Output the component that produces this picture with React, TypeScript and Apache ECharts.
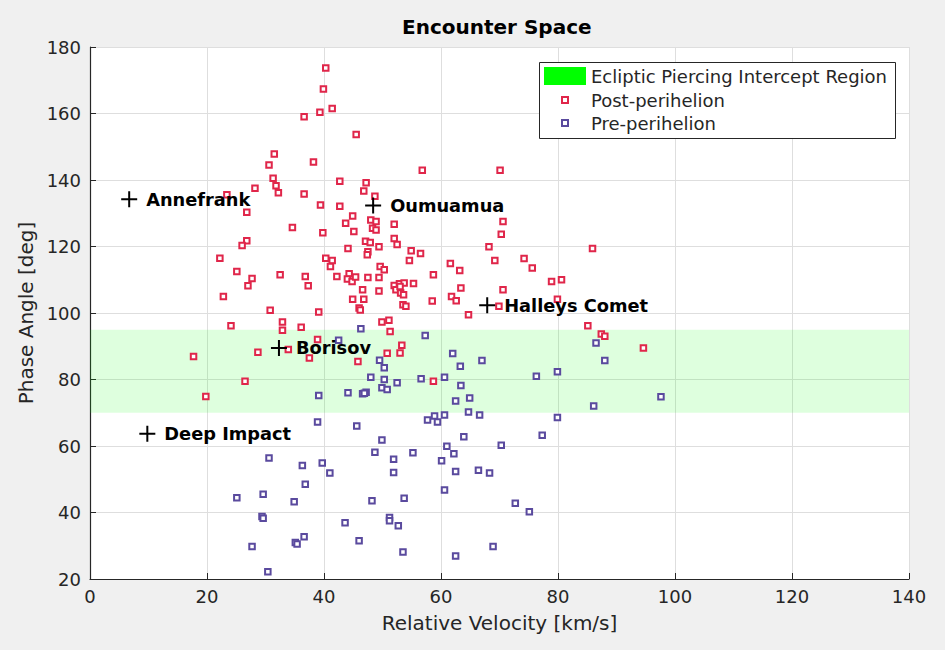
import React, { useEffect, useRef } from "react";
import * as echarts from "echarts";

const FONT = "DejaVu Sans";
const RED = "#e0264a";
const BLUE = "#5a4a9e";

const X_TICKS = [0, 140, 20];
const Y_TICKS = [20, 180, 20];
const BAND = [70, 95];

const postX = [40.3, 39.9, 41.4, 39.3, 36.6, 45.5, 31.5, 30.6, 38.2, 31.3, 31.8, 32.2, 28.2, 23.4, 36.6, 42.7, 47.2, 46.8, 48.7, 26.8, 39.4, 42.7, 44.9, 43.7, 34.6, 39.8, 45.1, 48.0, 48.9, 48.3, 48.9, 26.8, 26.0, 44.1, 47.1, 47.9, 47.5, 47.4, 49.4, 22.2, 40.3, 41.4, 41.1, 25.1, 27.7, 27.0, 32.5, 36.8, 37.3, 42.2, 44.3, 44.0, 44.8, 45.4, 47.5, 49.4, 49.6, 50.3, 22.8, 46.6, 49.4, 44.9, 46.8, 46.0, 46.2, 30.8, 39.1, 56.8, 70.1, 52.0, 70.6, 70.3, 52.0, 52.5, 54.9, 56.5, 54.6, 68.2, 69.2, 74.2, 75.6, 85.9, 61.6, 63.2, 58.7, 52.0, 52.9, 53.7, 52.3, 53.1, 53.6, 53.0, 55.3, 53.5, 54.0, 58.5, 61.8, 62.6, 63.4, 70.6, 78.9, 80.6, 79.9, 64.7, 69.9, 85.1, 87.4, 88.0, 94.6, 24.1, 32.9, 32.9, 36.1, 38.9, 33.9, 28.7, 17.7, 37.5, 26.5, 19.8, 45.8, 49.9, 51.1, 51.3, 53.3, 53.0, 50.8, 58.7];
const postY = [173.7, 167.4, 161.5, 160.4, 159.0, 153.7, 147.8, 144.5, 145.4, 140.5, 138.3, 136.2, 137.5, 135.6, 135.8, 139.6, 139.2, 136.7, 135.1, 130.3, 132.5, 132.1, 129.2, 127.0, 125.7, 124.1, 124.5, 128.0, 127.5, 125.5, 125.0, 121.7, 120.3, 119.4, 121.6, 121.2, 118.4, 117.5, 119.9, 116.5, 116.5, 115.8, 114.0, 112.5, 110.4, 108.2, 111.5, 111.0, 108.2, 111.0, 111.8, 110.2, 109.5, 110.8, 110.7, 110.7, 114.0, 113.0, 105.0, 107.0, 106.6, 104.1, 104.1, 101.5, 100.9, 100.8, 100.3, 142.9, 142.9, 126.7, 127.5, 123.7, 122.4, 120.6, 118.7, 117.9, 115.8, 119.9, 115.8, 116.4, 113.5, 119.4, 114.9, 112.8, 111.5, 108.3, 108.8, 109.0, 107.0, 106.0, 105.5, 108.0, 108.9, 102.5, 102.0, 103.6, 105.0, 103.7, 107.5, 107.0, 109.5, 110.0, 104.1, 99.5, 102.0, 96.2, 93.7, 93.0, 89.5, 96.2, 97.3, 94.8, 95.7, 92.0, 89.0, 88.2, 86.9, 86.5, 79.5, 74.9, 85.4, 97.3, 97.8, 94.4, 90.3, 88.0, 87.9, 79.5];

const preX = [46.3, 42.5, 49.5, 50.3, 48.0, 50.3, 49.9, 50.8, 52.5, 44.1, 46.6, 47.2, 46.9, 39.1, 38.9, 45.6, 49.9, 48.7, 30.6, 36.3, 39.7, 41.0, 36.8, 25.1, 29.6, 34.9, 48.2, 29.4, 29.6, 43.6, 51.2, 36.6, 35.1, 35.4, 27.7, 46.0, 30.4, 57.3, 62.0, 67.0, 63.3, 56.6, 60.6, 63.4, 62.5, 64.9, 64.7, 66.6, 57.7, 58.9, 59.4, 60.6, 76.3, 79.9, 79.9, 86.1, 86.5, 88.0, 97.6, 55.2, 51.9, 51.9, 63.9, 61.0, 62.2, 60.1, 62.5, 66.4, 68.3, 70.3, 77.3, 60.6, 53.7, 51.2, 52.7, 72.7, 75.1, 53.5, 62.5, 68.9];
const preY = [95.3, 91.8, 85.8, 83.5, 80.7, 80.0, 77.5, 77.0, 79.0, 76.0, 75.7, 76.2, 75.9, 75.2, 67.2, 66.0, 61.8, 58.1, 56.4, 54.1, 54.9, 51.9, 48.5, 44.4, 45.5, 43.2, 43.5, 38.8, 38.3, 36.9, 38.5, 32.7, 31.0, 30.5, 29.8, 31.5, 22.2, 93.2, 87.8, 85.7, 84.0, 80.2, 80.7, 78.2, 73.5, 74.4, 70.2, 69.3, 67.8, 69.0, 67.2, 69.3, 81.0, 82.3, 68.6, 72.0, 91.0, 85.7, 74.8, 58.0, 56.0, 52.0, 62.8, 59.9, 57.7, 55.6, 52.3, 52.7, 51.9, 60.2, 63.2, 46.8, 44.3, 37.5, 36.0, 42.8, 40.2, 28.1, 26.9, 29.8];

const labelNames = ["Annefrank", "Oumuamua", "Halleys Comet", "Borisov", "Deep Impact"];
const labelX = [6.7, 48.4, 67.9, 32.3, 9.8];
const labelY = [134.2, 132.3, 102.3, 89.5, 63.7];

const zip = (xs: number[], ys: number[]) => xs.map((x, i) => [x, ys[i]]);

const SQUARE_ICON = "path://M0,0H10V10H0Z";

export default function App() {
  const ref = useRef<HTMLDivElement>(null);
  useEffect(() => {
    if (!ref.current) return;
    const chart = echarts.init(ref.current, undefined, { renderer: "svg" });
    const axisText = { fontFamily: FONT, fontSize: 18, color: "#262626" };
    const marker = (color: string) => ({
      type: "scatter",
      symbol: "rect",
      symbolSize: 5.5,
      itemStyle: { color: "#ffffff", borderColor: color, borderWidth: 2, opacity: 1 },
      z: 2,
    });
    const legendBase = {
      left: 544,
      padding: 0,
      itemWidth: 42,
      symbolKeepAspect: true,
      textStyle: { fontFamily: FONT, fontSize: 18, color: "#262626" },
      selectedMode: false,
    };
    chart.setOption({
      animation: false,
      backgroundColor: "#f0f0f0",
      title: {
        text: "Encounter Space",
        left: 402,
        top: 17,
        padding: 0,
        textStyle: { fontFamily: FONT, fontSize: 20, fontWeight: "bold", color: "#000" },
      },
      grid: {
        left: 90,
        right: 36,
        top: 47,
        bottom: 71,
        show: true,
        backgroundColor: "#ffffff",
        borderWidth: 0,
      },
      xAxis: {
        type: "value",
        min: X_TICKS[0],
        max: X_TICKS[1],
        interval: X_TICKS[2],
        name: "Relative Velocity [km/s]",
        nameLocation: "middle",
        nameGap: 34,
        nameTextStyle: { fontFamily: FONT, fontSize: 20, color: "#262626" },
        axisLine: { show: true, onZero: false, lineStyle: { color: "#262626", width: 1.2 } },
        axisTick: { show: true, inside: true, length: 6, lineStyle: { color: "#262626" } },
        axisLabel: { ...axisText, margin: 8 },
        splitLine: { show: true, lineStyle: { color: "#dedede", width: 1 } },
      },
      yAxis: {
        type: "value",
        min: Y_TICKS[0],
        max: Y_TICKS[1],
        interval: Y_TICKS[2],
        name: "Phase Angle [deg]",
        nameLocation: "middle",
        nameGap: 53,
        nameTextStyle: { fontFamily: FONT, fontSize: 20, color: "#262626" },
        axisLine: { show: true, onZero: false, lineStyle: { color: "#262626", width: 1.2 } },
        axisTick: { show: true, inside: true, length: 6, lineStyle: { color: "#262626" } },
        axisLabel: { ...axisText, margin: 9 },
        splitLine: { show: true, lineStyle: { color: "#dedede", width: 1 } },
      },
      legend: [
        {
          ...legendBase,
          top: 67,
          itemHeight: 18,
          symbolKeepAspect: false,
          data: [{ name: "Ecliptic Piercing Intercept Region", icon: "rect" }],
        },
        {
          ...legendBase,
          left: 561,
          top: 91,
          itemHeight: 6,
          data: [{ name: "Post-perihelion", icon: SQUARE_ICON }],
        },
        {
          ...legendBase,
          left: 561,
          top: 114,
          itemHeight: 6,
          data: [{ name: "Pre-perihelion", icon: SQUARE_ICON }],
        },
      ],
      graphic: [
        {
          type: "rect",
          z: 3,
          shape: { x: 539.5, y: 62.5, width: 356, height: 76 },
          style: { fill: "#ffffff", stroke: "#262626", lineWidth: 1 },
        },
      ],
      series: [
        {
          type: "scatter",
          name: "Ecliptic Piercing Intercept Region",
          data: [],
          itemStyle: { color: "#00ff00", opacity: 1 },
          z: 1,
          markArea: {
            silent: true,
            itemStyle: { color: "rgba(0,255,0,0.13)" },
            data: [[{ yAxis: BAND[0] }, { yAxis: BAND[1] }]],
          },
        },
        { ...marker(RED), name: "Post-perihelion", data: zip(postX, postY) },
        { ...marker(BLUE), name: "Pre-perihelion", data: zip(preX, preY) },
        {
          type: "scatter",
          name: "Targets",
          symbol: "path://M7,0H9V7H16V9H9V16H7V9H0V7H7Z",
          symbolSize: 16,
          itemStyle: { color: "#000000", opacity: 1 },
          z: 5,
          data: labelNames.map((n, i) => ({ name: n, value: [labelX[i], labelY[i]] })),
          label: {
            show: true,
            position: "right",
            distance: 9,
            formatter: "{b}",
            fontFamily: FONT,
            fontSize: 17.8,
            fontWeight: "bold",
            color: "#000000",
            opacity: 1,
          },
        },
      ],
    });
    return () => chart.dispose();
  }, []);
  return (
    <div
      ref={ref}
      style={{ position: "fixed", left: 0, top: 0, width: 945, height: 650 }}
    />
  );
}
